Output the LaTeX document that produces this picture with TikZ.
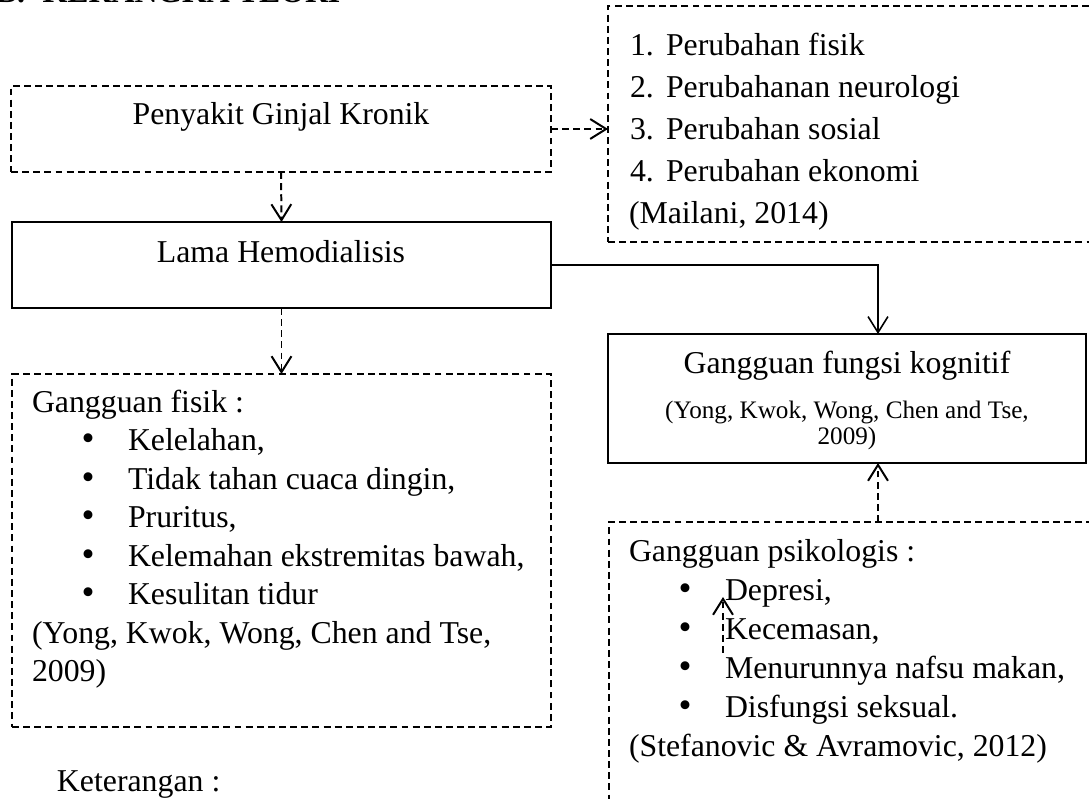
\documentclass[tikz,border=0pt]{standalone}
\usepackage{fontspec}
\setmainfont{Liberation Serif}
\usetikzlibrary{arrows.meta,fit}
\begin{document}
\begin{tikzpicture}[x=0.3774pt, y=-0.3774pt,
  every node/.style={inner sep=0pt, outer sep=0pt, font=\fontsize{12}{14}\selectfont},
  ln/.style={anchor=base west},
  lc/.style={anchor=base},
  blt/.style={anchor=base, font=\fontsize{14}{14}\selectfont},
  cite/.style={anchor=base, font=\fontsize{9.5}{11}\selectfont},
  dashbox/.style={draw, line width=0.75pt, dash pattern=on 2.6pt off 1.6pt, inner sep=0pt},
  solidbox/.style={draw, line width=0.9pt, inner sep=0pt},
  dconn/.style={line width=0.75pt, dash pattern=on 2.6pt off 1.6pt, -{Straight Barb[length=6pt,width=7.5pt]}},
  sconn/.style={line width=0.6pt, -{Straight Barb[length=6pt,width=7.5pt]}}]

\path[use as bounding box] (0,0) rectangle (1089,799);
\clip (0,0) rectangle (1089,799);

% header (cut off at the top of the picture, as in the reference)
\node[ln, font=\bfseries\fontsize{12}{14}\selectfont] (hdr) at (-4,3) {B.\hspace{0.55em}KERANGKA TEORI};

% boxes
\coordinate (p1) at (11,86);   \coordinate (p2) at (551,172);
\node[dashbox, fit=(p1)(p2)] (pgk) {};
\coordinate (l1) at (608,6);   \coordinate (l2) at (1120,242);
\node[dashbox, fit=(l1)(l2)] (lst) {};
\coordinate (h1) at (12,222);  \coordinate (h2) at (551,308);
\node[solidbox, fit=(h1)(h2)] (lama) {};
\coordinate (k1) at (608,334); \coordinate (k2) at (1086,463);
\node[solidbox, fit=(k1)(k2)] (kog) {};
\coordinate (f1) at (12,374);  \coordinate (f2) at (551,727);
\node[dashbox, fit=(f1)(f2)] (fis) {};
\coordinate (s1) at (609,522); \coordinate (s2) at (1120,830);
\node[dashbox, fit=(s1)(s2)] (psi) {};

% texts
\node[lc] (pgkT) at (281,125) {Penyakit Ginjal Kronik};
\node[lc] (lamaT) at (281,263) {Lama Hemodialisis};

\node[ln] (n1) at (630,56) {1.};  \node[ln] (i1) at (666,56) {Perubahan fisik};
\node[ln] (n2) at (630,98) {2.};  \node[ln] (i2) at (666,98) {Perubahanan neurologi};
\node[ln] (n3) at (630,140) {3.}; \node[ln] (i3) at (666,140) {Perubahan sosial};
\node[ln] (n4) at (630,182) {4.}; \node[ln] (i4) at (666,182) {Perubahan ekonomi};
\node[ln] (mail) at (629,224) {(Mailani, 2014)};

\node[lc] (kogT) at (847,374) {Gangguan fungsi kognitif};
\node[cite] (kogC1) at (847,419) {(Yong, Kwok, Wong, Chen and Tse,};
\node[cite] (kogC2) at (847,445) {2009)};

\node[ln] (fisT) at (32,413) {Gangguan fisik :};
\node[blt] (fb1) at (88,451) {\textbullet}; \node[ln] (fi1) at (128,451) {Kelelahan,};
\node[blt] (fb2) at (88,490) {\textbullet}; \node[ln] (fi2) at (128,490) {Tidak tahan cuaca dingin,};
\node[blt] (fb3) at (88,528) {\textbullet}; \node[ln] (fi3) at (128,528) {Pruritus,};
\node[blt] (fb4) at (88,567) {\textbullet}; \node[ln] (fi4) at (128,567) {Kelemahan ekstremitas bawah,};
\node[blt] (fb5) at (88,605) {\textbullet}; \node[ln] (fi5) at (128,605) {Kesulitan tidur};
\node[ln] (fc1) at (32,644) {(Yong, Kwok, Wong, Chen and Tse,};
\node[ln] (fc2) at (32,682) {2009)};

\node[ln] (psiT) at (629,562) {Gangguan psikologis :};
\node[blt] (pb1) at (685,601) {\textbullet}; \node[ln] (pi1) at (725,601) {Depresi,};
\node[blt] (pb2) at (685,640) {\textbullet}; \node[ln] (pi2) at (725,640) {Kecemasan,};
\node[blt] (pb3) at (685,679) {\textbullet}; \node[ln] (pi3) at (725,679) {Menurunnya nafsu makan,};
\node[blt] (pb4) at (685,718) {\textbullet}; \node[ln] (pi4) at (725,718) {Disfungsi seksual.};
\node[ln] (psiC) at (629,757) {(Stefanovic \& Avramovic, 2012)};

\node[ln] (ket) at (57,792) {Keterangan :};

% connectors
\coordinate (col) at (878,0);
\draw[dconn] (pgk.east) -- (lst.west |- pgk.east);
\draw[dconn] (pgk.south) -- (lama.north);
\draw[dconn] (lama.south) -- (fis.north);
\draw[sconn] (lama.east) -| (col |- kog.north);
\draw[dconn] (col |- psi.north) -- (col |- kog.south);
\coordinate (sa) at (723,653); \coordinate (sb) at (723,597);
\draw[dconn] (sa) -- (sb);
\end{tikzpicture}
\end{document}
